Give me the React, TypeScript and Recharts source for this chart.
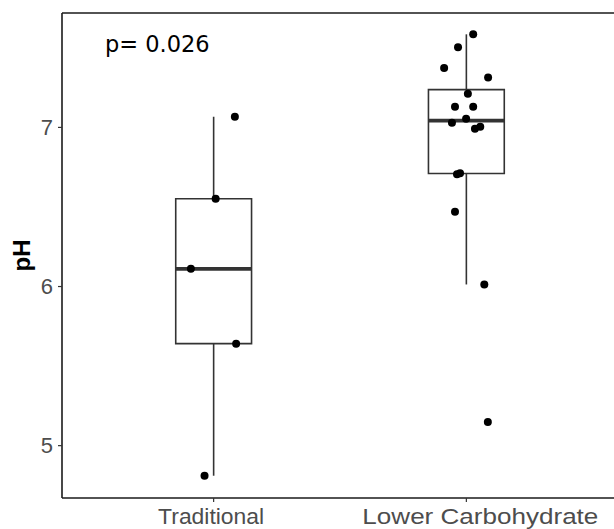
import {
    ComposedChart,
    ReferenceArea,
    ReferenceDot,
    ReferenceLine,
    Scatter,
    XAxis,
    YAxis
} from "recharts";

const groups = ["Traditional", "Lower Carbohydrate"];

// pH values, with the horizontal jitter of each dot
const traditionalPH = [7.067, 6.552, 6.111, 5.641, 4.811];
const traditionalJitter = [0.084, 0.008, -0.09, 0.089, -0.036];

const lowerCarbPH = [7.585, 7.503, 7.374, 7.313, 7.212, 7.13, 7.13, 7.055, 7.03, 7.004, 6.992, 6.706, 6.712, 6.47, 6.013, 5.149];
const lowerCarbJitter = [0.027, -0.033, -0.088, 0.086, 0.006, -0.045, 0.027, -0.001, -0.057, 0.055, 0.034, -0.037, -0.025, -0.045, 0.071, 0.085];

const yTicks = [5, 6, 7];
const pValueText = "p= 0.026";

const X_DOMAIN = [0.4, 2.6];
const Y_DOMAIN = [4.671, 7.719];
const BOX_HALF = 0.15;
const LINE = "#333333";
const AXIS = "#1a1a1a";
const TICK_GREY = "#4d4d4d";
const SANS = "Liberation Sans, Arial, sans-serif";

const quantile = (sorted: number[], p: number) => {
    const h = (sorted.length - 1) * p;
    const lo = Math.floor(h);
    const hi = Math.min(lo + 1, sorted.length - 1);
    return sorted[lo] + (h - lo) * (sorted[hi] - sorted[lo]);
};

const boxStats = (values: number[]) => {
    const s = [...values].sort((a, b) => a - b);
    const q1 = quantile(s, 0.25);
    const med = quantile(s, 0.5);
    const q3 = quantile(s, 0.75);
    const iqr = q3 - q1;
    const lower = Math.min(...s.filter(v => v >= q1 - 1.5 * iqr));
    const upper = Math.max(...s.filter(v => v <= q3 + 1.5 * iqr));
    return {q1, med, q3, lower, upper};
};

const series = [traditionalPH, lowerCarbPH];
const jitters = [traditionalJitter, lowerCarbJitter];

const points = series.flatMap((vals, gi) =>
    vals.map((v, i) => ({x: gi + 1 + jitters[gi][i], y: v}))
);

const stats = series.map(boxStats);

// R drew the labels a little off centre and wider than our font
const labelLook: Record<string, { dx: number, len: number }> = {
    "Traditional": {dx: -2.5, len: 106},
    "Lower Carbohydrate": {dx: 14, len: 236}
};

const XTick = (props: any) => {
    const {x, y, payload} = props;
    const name = groups[payload.value - 1];
    const look = labelLook[name] || {dx: 0, len: undefined};
    return (
        <text x={x + look.dx} y={y} dy="0.71em" textAnchor="middle"
              textLength={look.len} lengthAdjust="spacingAndGlyphs"
              fill={TICK_GREY} fontSize={22.5} fontFamily={SANS}>
            {name}
        </text>
    );
};

const Dot = (props: any) => <circle cx={props.cx} cy={props.cy} r={4} fill="#000"/>;

export default function App() {
    return (
        <div style={{position: "absolute", left: 0, top: 0, background: "#fff"}}>
            <ComposedChart width={614} height={529} data={points}
                           margin={{top: 13, right: -4, bottom: 0, left: 0}}>
                <XAxis type="number" dataKey="x" domain={X_DOMAIN} ticks={[1, 2]} allowDataOverflow
                       height={31} tickSize={4} tickMargin={6}
                       axisLine={{stroke: AXIS, strokeWidth: 1.6}}
                       tickLine={{stroke: LINE, strokeWidth: 1.2}} tick={<XTick/>} interval={0}/>
                <YAxis type="number" dataKey="y" domain={Y_DOMAIN} ticks={yTicks} allowDataOverflow
                       width={62} tickSize={4} tickMargin={5}
                       axisLine={{stroke: AXIS, strokeWidth: 1.6}}
                       tickLine={{stroke: LINE, strokeWidth: 1.2}}
                       tick={{fill: TICK_GREY, fontSize: 22, fontFamily: SANS}}
                       label={{
                           position: "insideLeft",
                           content: (p: any) => {
                               const {x, y, height} = p.viewBox;
                               const cx = x + 21.5;
                               const cy = y + height / 2;
                               return (
                                   <text x={cx} y={cy} transform={`rotate(-90, ${cx}, ${cy})`}
                                         textAnchor="middle" dominantBaseline="central"
                                         fontSize={24} fontWeight="bold" fill="#000"
                                         fontFamily={SANS}>pH</text>
                               );
                           }
                       }}/>
                {/* top edge of the panel; the right edge falls outside the picture */}
                <ReferenceLine y={Y_DOMAIN[1]} stroke={AXIS} strokeWidth={1.6} ifOverflow="visible"/>
                {stats.map((s, i) => (
                    <ReferenceArea key={`box-${i}`} x1={i + 1 - BOX_HALF} x2={i + 1 + BOX_HALF} y1={s.q1} y2={s.q3}
                                   fill="#fff" fillOpacity={1} stroke={LINE} strokeWidth={1.6}/>
                ))}
                {stats.map((s, i) => (
                    <ReferenceLine key={`up-${i}`} segment={[{x: i + 1, y: s.q3}, {x: i + 1, y: s.upper}]}
                                   stroke={LINE} strokeWidth={1.6}/>
                ))}
                {stats.map((s, i) => (
                    <ReferenceLine key={`lo-${i}`} segment={[{x: i + 1, y: s.lower}, {x: i + 1, y: s.q1}]}
                                   stroke={LINE} strokeWidth={1.6}/>
                ))}
                {stats.map((s, i) => (
                    <ReferenceLine key={`med-${i}`}
                                   segment={[{x: i + 1 - BOX_HALF, y: s.med}, {x: i + 1 + BOX_HALF, y: s.med}]}
                                   stroke={LINE} strokeWidth={3.6}/>
                ))}
                <Scatter dataKey="y" shape={<Dot/>} isAnimationActive={false}/>
                <ReferenceDot x={0.57} y={7.474} r={0} fill="none" stroke="none"
                              label={{
                                  content: (p: any) => (
                                      <text x={p.viewBox.x} y={p.viewBox.y} textAnchor="start" fill="#000"
                                            fontSize={22.5} fontFamily="DejaVu Sans, sans-serif">
                                          {pValueText}
                                      </text>
                                  )
                              }}/>
            </ComposedChart>
        </div>
    );
}
